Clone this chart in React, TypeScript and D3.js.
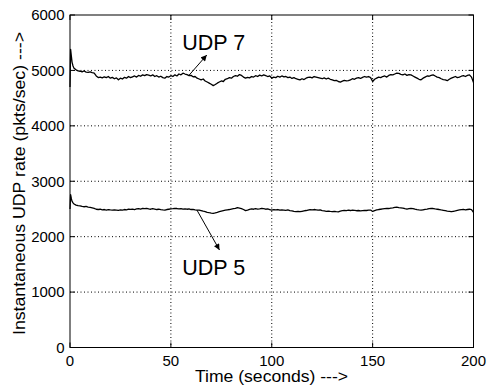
import React from "react";
import * as d3 from "d3";

const startTimes = [0, 0.3, 0.7, 1, 1.5, 2, 3, 4];
const udp7Start = [4700, 5380, 5250, 5150, 5080, 5040, 5010, 4990];
const udp5Start = [2500, 2760, 2680, 2640, 2610, 2590, 2570, 2560];

const udp7Values = [
  4985, 4975, 4990, 4970, 4965, 4975, 4960, 4950, 4900, 4870,
  4880, 4865, 4885, 4870, 4890, 4860, 4875, 4850, 4865, 4830,
  4860, 4845, 4875, 4860, 4890, 4870, 4885, 4900, 4880, 4910,
  4895, 4920, 4905, 4925, 4915, 4900, 4920, 4890, 4905, 4880,
  4895, 4870, 4860, 4890, 4880, 4905, 4890, 4920, 4900, 4935,
  4920, 4950, 4935, 4925, 4905, 4910, 4885, 4890, 4860, 4845,
  4830, 4845, 4810, 4790, 4770, 4750, 4725, 4745, 4770, 4790,
  4810, 4800, 4840, 4850, 4870, 4860, 4890, 4905, 4895, 4925,
  4910, 4880, 4860, 4875, 4865, 4890, 4880, 4905, 4890, 4915,
  4900, 4920, 4905, 4890, 4900, 4860, 4880, 4870, 4895, 4880,
  4900, 4885, 4890, 4870, 4880, 4855, 4870, 4850, 4840, 4830,
  4850, 4835, 4860, 4875, 4880, 4865, 4890, 4880, 4870, 4860,
  4850, 4865, 4845, 4860, 4840, 4830, 4815, 4820, 4800, 4790,
  4805, 4820, 4810, 4815, 4830, 4850, 4840, 4860, 4870, 4855,
  4875, 4890, 4880, 4890, 4870, 4800, 4840, 4860, 4880, 4870,
  4890, 4900, 4880, 4910, 4925, 4920, 4935, 4950, 4945, 4930,
  4920, 4935, 4910, 4925, 4920, 4900, 4880, 4860, 4840, 4830,
  4860, 4880, 4900, 4895, 4910, 4920, 4900, 4880, 4870, 4850,
  4835, 4830, 4815, 4840, 4860, 4875, 4890, 4870, 4880, 4895,
  4905, 4890, 4910, 4920, 4880, 4780,
];

const udp5Values = [
  2555, 2545, 2540, 2545, 2535, 2530, 2520, 2510, 2495, 2490,
  2495, 2485, 2490, 2480, 2488, 2482, 2478, 2485, 2480, 2475,
  2482, 2478, 2490, 2485, 2495, 2492, 2498, 2490, 2500, 2505,
  2498, 2510, 2505, 2512, 2500, 2495, 2505, 2498, 2490, 2495,
  2488, 2482, 2478, 2490, 2495, 2500, 2505, 2512, 2508, 2500,
  2505, 2498, 2502, 2495, 2500, 2490, 2492, 2485, 2480, 2478,
  2470, 2460, 2452, 2440, 2432, 2425, 2420, 2428, 2438, 2450,
  2460, 2470, 2478, 2485, 2490, 2498, 2505, 2510, 2525, 2515,
  2505, 2490, 2470, 2480, 2492, 2500, 2495, 2505, 2498, 2502,
  2510, 2505, 2495, 2500, 2490, 2480, 2488, 2482, 2490, 2478,
  2485, 2480, 2475, 2482, 2470, 2465, 2458, 2452, 2455, 2450,
  2458, 2465, 2472, 2480, 2488, 2482, 2490, 2485, 2478, 2482,
  2470, 2465, 2458, 2462, 2455, 2450, 2458, 2452, 2448, 2460,
  2468, 2475, 2470, 2478, 2472, 2480, 2475, 2468, 2472, 2465,
  2470, 2475, 2472, 2478, 2480, 2455, 2470, 2482, 2490, 2495,
  2500, 2505, 2510, 2508, 2515, 2520, 2528, 2532, 2525, 2520,
  2515, 2505, 2498, 2505, 2510, 2505, 2495, 2488, 2482, 2478,
  2485, 2492, 2498, 2505, 2510, 2508, 2500, 2495, 2490, 2482,
  2475, 2468, 2460, 2455, 2450, 2458, 2465, 2475, 2482, 2488,
  2492, 2485, 2490, 2495, 2488, 2440,
];

const xTicks = [0, 50, 100, 150, 200];
const yTicks = [0, 1000, 2000, 3000, 4000, 5000, 6000];

const labels = [
  { text: "UDP 7", t: 55.6, v: 5368, from: [58.7, 4900], to: [67.8, 5278] },
  { text: "UDP 5", t: 55.6, v: 1308, from: [62.9, 2481], to: [74.1, 1759] },
];

const W = 487;
const H = 387;
const M = { left: 70, right: 473.5, top: 15, bottom: 347.5 };
const FONT = "'Liberation Sans', Arial, Helvetica, sans-serif";

function buildSeries(start: number[], rest: number[]) {
  const pts: [number, number][] = [];
  startTimes.forEach((t, i) => pts.push([t, start[i]]));
  rest.forEach((v, i) => pts.push([5 + i, v]));
  return pts;
}

export default function App() {
  const x = d3.scaleLinear().domain([0, 200]).range([M.left, M.right]);
  const y = d3.scaleLinear().domain([0, 6000]).range([M.bottom, M.top]);
  const line = d3
    .line<[number, number]>()
    .x((d) => x(d[0]))
    .y((d) => y(d[1]));
  const s7 = buildSeries(udp7Start, udp7Values);
  const s5 = buildSeries(udp5Start, udp5Values);
  const tickLen = 5;

  return (
    <svg
      width={W}
      height={H}
      style={{ position: "absolute", left: 0, top: 0, background: "#fff" }}
      fontFamily={FONT}
    >
      <defs>
        <marker
          id="ah"
          viewBox="0 0 10 10"
          refX="10"
          refY="5"
          markerWidth="7"
          markerHeight="6"
          markerUnits="userSpaceOnUse"
          orient="auto"
        >
          <path d="M0,0 L10,5 L0,10 Z" fill="#000" />
        </marker>
      </defs>
      <rect x={0} y={0} width={W} height={H} fill="#fff" />
      {/* grid */}
      {xTicks.slice(1, -1).map((t) => (
        <line
          key={"gx" + t}
          x1={x(t)}
          x2={x(t)}
          y1={M.top}
          y2={M.bottom}
          stroke="#000"
          strokeWidth={1}
          strokeDasharray="1,2.5"
        />
      ))}
      {yTicks.slice(1, -1).map((t) => (
        <line
          key={"gy" + t}
          x1={M.left}
          x2={M.right}
          y1={y(t)}
          y2={y(t)}
          stroke="#000"
          strokeWidth={1}
          strokeDasharray="1,2.5"
        />
      ))}
      {/* ticks */}
      {xTicks.map((t) => (
        <g key={"tx" + t}>
          <line x1={x(t)} x2={x(t)} y1={M.bottom} y2={M.bottom - tickLen} stroke="#000" />
          <line x1={x(t)} x2={x(t)} y1={M.top} y2={M.top + tickLen} stroke="#000" />
          <text x={x(t)} y={365.5} fontSize={15} textAnchor="middle" fill="#000">
            {t}
          </text>
        </g>
      ))}
      {yTicks.map((t) => (
        <g key={"ty" + t}>
          <line x1={M.left} x2={M.left + tickLen} y1={y(t)} y2={y(t)} stroke="#000" />
          <line x1={M.right} x2={M.right - tickLen} y1={y(t)} y2={y(t)} stroke="#000" />
          <text x={64.5} y={y(t) + 5.4} fontSize={15} textAnchor="end" fill="#000">
            {t}
          </text>
        </g>
      ))}
      {/* series */}
      <path d={line(s7) || ""} fill="none" stroke="#000" strokeWidth={1.3} strokeLinejoin="round" />
      <path d={line(s5) || ""} fill="none" stroke="#000" strokeWidth={1.3} strokeLinejoin="round" />
      {/* frame */}
      <rect
        x={M.left}
        y={M.top}
        width={M.right - M.left}
        height={M.bottom - M.top}
        fill="none"
        stroke="#000"
        strokeWidth={1}
      />
      {/* annotations */}
      {labels.map((l) => (
        <g key={l.text}>
          <text x={x(l.t)} y={y(l.v)} fontSize={21.5} fill="#000">
            {l.text}
          </text>
          <line
            x1={x(l.from[0])}
            y1={y(l.from[1])}
            x2={x(l.to[0])}
            y2={y(l.to[1])}
            stroke="#000"
            strokeWidth={1}
            markerEnd="url(#ah)"
          />
        </g>
      ))}
      {/* axis labels */}
      <text
        x={195}
        y={382}
        fontSize={16}
        textLength={153}
        lengthAdjust="spacingAndGlyphs"
        fill="#000"
      >
        {"Time (seconds) --->"}
      </text>
      <text
        transform={`translate(25,335) rotate(-90)`}
        fontSize={16}
        textLength={303}
        lengthAdjust="spacingAndGlyphs"
        fill="#000"
      >
        {"Instantaneous UDP rate (pkts/sec) --->"}
      </text>
    </svg>
  );
}
